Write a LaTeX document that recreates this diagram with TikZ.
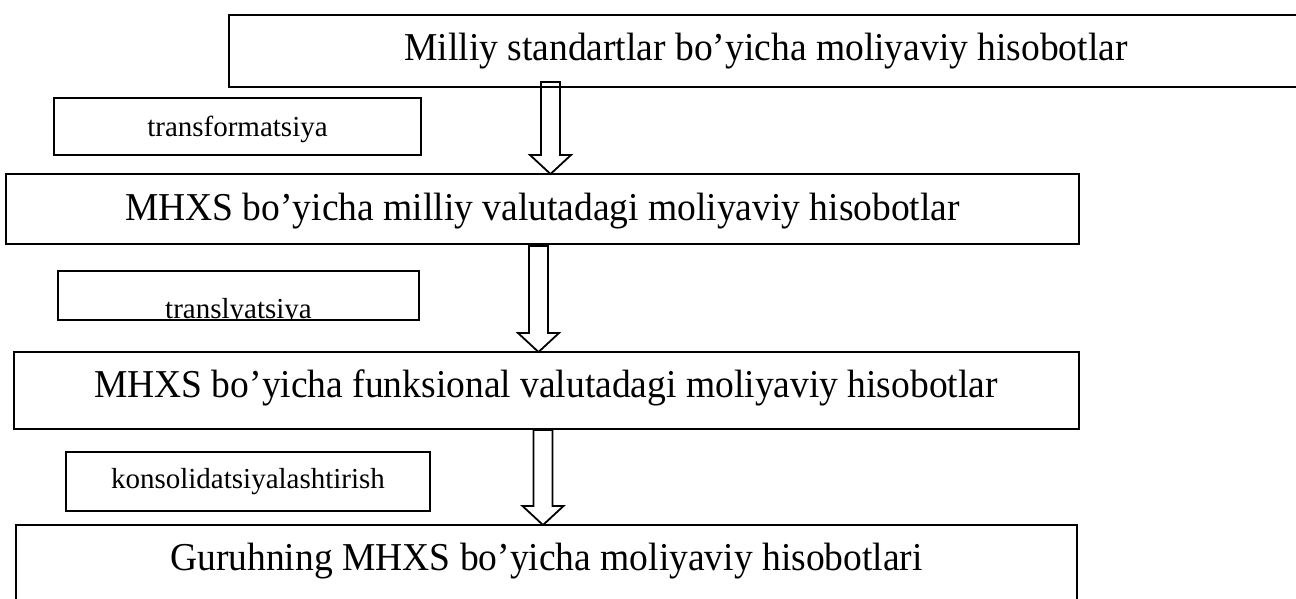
\documentclass[tikz,border=0pt]{standalone}
\usepackage{fontspec}
\setmainfont{Liberation Serif}
\newfontfamily\bigfont[FakeStretch=0.95]{Liberation Serif}
\usetikzlibrary{calc}
\tikzset{
  box/.style={draw=black, line width=1.8pt, rectangle, inner sep=0pt, outer sep=0pt},
  bigtext/.style={inner sep=0pt, anchor=base, font=\bigfont\fontsize{39.5}{45}\selectfont},
  smalltext/.style={inner sep=0pt, anchor=base, font=\fontsize{29}{35}\selectfont},
  arrowline/.style={draw=black, line width=1.8pt, line join=miter}
}
\newcommand\blockarr[5]{%
  \draw[arrowline] let \p1=(#1), \p2=(#2) in
    (#3pt-9.5pt,\y1+#4pt) -- (#3pt+9.5pt,\y1+#4pt) -- (#3pt+9.5pt,\y2+#5pt+19pt)
    -- (#3pt+20.5pt,\y2+#5pt+19pt) -- (#3pt,\y2+#5pt) -- (#3pt-20.5pt,\y2+#5pt+19pt)
    -- (#3pt-9.5pt,\y2+#5pt+19pt) -- cycle;}
\begin{document}
\begin{tikzpicture}[x=1pt,y=-1pt]
\useasboundingbox (0,0) rectangle (1296,598);
\begin{scope}
\clip (0,0) rectangle (1296,598);
% main boxes
\node[box, minimum width=1074pt, minimum height=72pt] (b1) at (766,51) {};
\node[box, minimum width=1073pt, minimum height=70pt] (b2) at (542.5,209) {};
\node[box, minimum width=1065pt, minimum height=77pt] (b3) at (546.5,390.5) {};
\node[box, minimum width=1061pt, minimum height=77pt] (b4) at (546.5,563.5) {};
% small boxes
\node[box, minimum width=367pt, minimum height=57pt] (s1) at (237.5,126.5) {};
\node[box, minimum width=361pt, minimum height=49pt] (s2) at (238.5,295.5) {};
\node[box, minimum width=364pt, minimum height=59pt] (s3) at (248,481.5) {};
% texts
\node[bigtext] (t1) at (766,60) {Milliy standartlar bo’yicha moliyaviy hisobotlar};
\node[bigtext] (t2) at (542.5,220) {MHXS bo’yicha milliy valutadagi moliyaviy hisobotlar};
\node[bigtext] (t3) at (546,397) {MHXS bo’yicha funksional valutadagi moliyaviy hisobotlar};
\node[bigtext] (t4) at (546.5,570) {Guruhning MHXS bo’yicha moliyaviy hisobotlari};
\node[smalltext] (u1) at (237.5,136) {transformatsiya};
\begin{scope}
\clip (58,271) rectangle (419,320);
\node[smalltext] (u2) at (238.5,318) {translyatsiya};
\end{scope}
\node[smalltext] (u3) at (248,488) {konsolidatsiyalashtirish};
% block arrows
\blockarr{b1.south}{b2.north}{550.5}{5}{0}
\blockarr{b2.south}{b3.north}{538.5}{-2}{0}
\blockarr{b3.south}{b4.north}{543}{-1}{0}
\end{scope}
\end{tikzpicture}
\end{document}
